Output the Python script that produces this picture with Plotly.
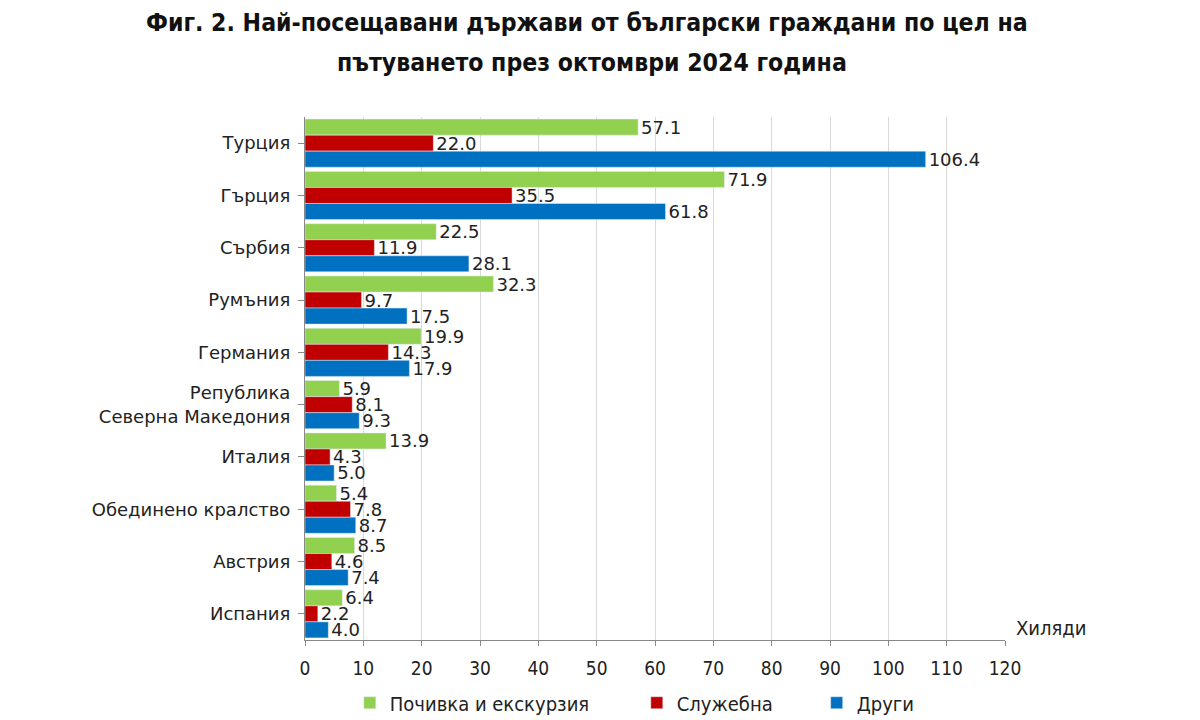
import plotly.graph_objects as go

countries = ["Турция", "Гърция", "Сърбия", "Румъния", "Германия",
             "Република<br>Северна Македония", "Италия", "Обединено кралство",
             "Австрия", "Испания"]
leisure = [57.1, 71.9, 22.5, 32.3, 19.9, 5.9, 13.9, 5.4, 8.5, 6.4]
business = [22.0, 35.5, 11.9, 9.7, 14.3, 8.1, 4.3, 7.8, 4.6, 2.2]
other = [106.4, 61.8, 28.1, 17.5, 17.9, 9.3, 5.0, 8.7, 7.4, 4.0]
series_names = ["Почивка и екскурзия", "Служебна", "Други"]
colors = ["#92D050", "#C00000", "#0070C0"]
x_ticks = list(range(0, 121, 10))

NARROW = "DejaVu Sans Condensed, sans-serif"

fig = go.Figure()
legend_ids = ["legend", "legend2", "legend3"]
for name, vals, col, lg in zip(series_names, [leisure, business, other], colors, legend_ids):
    fig.add_trace(go.Bar(
        y=countries, x=vals, name=name, orientation="h",
        marker=dict(color=col),
        text=[f"{v:.1f}" for v in vals], textposition="outside",
        constraintext="none",
        textfont=dict(family="DejaVu Sans", size=18, color="#222"),
        cliponaxis=False, legend=lg,
    ))

legfont = dict(family=NARROW, size=20, color="#222")
fig.update_layout(
    width=1200, height=720,
    barmode="group", bargap=0.08, bargroupgap=0,
    plot_bgcolor="white", paper_bgcolor="white",
    margin=dict(l=297, r=203, t=109, b=88, autoexpand=False),
    legend=dict(x=0.064, xanchor="left", y=-0.12, yanchor="middle", font=legfont,
                itemwidth=30, bgcolor="rgba(0,0,0,0)"),
    legend2=dict(x=0.474, xanchor="left", y=-0.12, yanchor="middle", font=legfont,
                 itemwidth=30, bgcolor="rgba(0,0,0,0)"),
    legend3=dict(x=0.731, xanchor="left", y=-0.12, yanchor="middle", font=legfont,
                 itemwidth=30, bgcolor="rgba(0,0,0,0)"),
    showlegend=True,
)
fig.update_xaxes(range=[0, 120], tickvals=x_ticks, showgrid=True, gridcolor="#D9D9D9",
                 showline=True, linecolor="#888", ticks="outside", ticklen=5, tickcolor="#888",
                 ticklabelstandoff=6,
                 tickfont=dict(family=NARROW, size=19, color="#222"),
                 zeroline=False)
fig.update_yaxes(autorange="reversed", showline=True, linecolor="#888", ticks="outside",
                 ticklen=6, tickcolor="#888", ticklabelstandoff=4,
                 tickfont=dict(family="DejaVu Sans", size=18, color="#222"))

title_font = dict(family=NARROW, size=24.6, color="#111", weight="bold")
fig.add_annotation(text="Фиг. 2. Най-посещавани държави от български граждани по цел на",
                   x=0.403, y=1.1816, xref="paper", yref="paper", xanchor="center",
                   yanchor="middle", showarrow=False, font=title_font)
fig.add_annotation(text="пътуването през октомври 2024 година",
                   x=0.41, y=1.105, xref="paper", yref="paper", xanchor="center",
                   yanchor="middle", showarrow=False, font=title_font)
fig.add_annotation(text="Хиляди", x=1.066, y=0.023, xref="paper", yref="paper",
                   xanchor="center", yanchor="middle",
                   showarrow=False, font=dict(family=NARROW, size=20, color="#222"))

fig.write_html("out.html")
